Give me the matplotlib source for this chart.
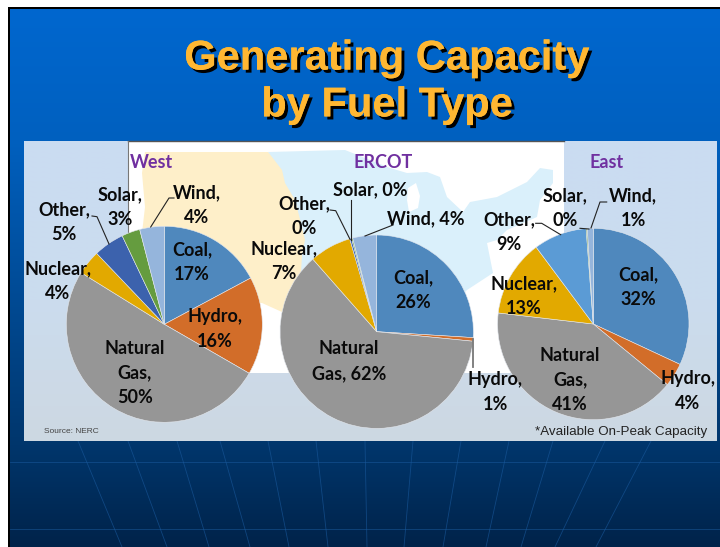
import numpy as np
import matplotlib
matplotlib.use("Agg")
import matplotlib.pyplot as plt
import matplotlib.patheffects as pe
from matplotlib.patches import Polygon, Rectangle

W, H = 720, 547

# ---- data ----
fuels = ["Coal", "Hydro", "Natural Gas", "Nuclear", "Other", "Solar", "Wind"]
west_values = [17, 16, 50, 4, 5, 3, 4]
ercot_values = [26, 0.6, 62, 7, 0.3, 0.2, 4]
east_values = [32, 4, 41, 13, 9, 0.2, 1]

west_colors = ["#4f88bd", "#d26d29", "#969696", "#e2a900", "#3c62ad", "#659c3f", "#95b5dc"]
ercot_colors = ["#4f88bd", "#d26d29", "#969696", "#e2a900", "#3c62ad", "#659c3f", "#95b5dc"]
east_colors = ["#4f88bd", "#d26d29", "#969696", "#e2a900", "#5b9bd5", "#659c3f", "#95b5dc"]

west_labels = ["Coal,\n17%", "Hydro,\n16%", "Natural\nGas,\n50%", "Nuclear,\n4%",
               "Other,\n5%", "Solar,\n3%", "Wind,\n4%"]
ercot_labels = ["Coal,\n26%", "Hydro,\n1%", "Natural\nGas, 62%", "Nuclear,\n7%",
                "Other,\n0%", "Solar, 0%", "Wind, 4%"]
east_labels = ["Coal,\n32%", "Hydro,\n4%", "Natural\nGas,\n41%", "Nuclear,\n13%",
               "Other,\n9%", "Solar,\n0%", "Wind,\n1%"]

regions = ["West", "ERCOT", "East"]
title = "Generating Capacity\nby Fuel Type"
source = "Source: NERC"
note = "*Available On-Peak Capacity"

# ---- layout (pixels, y measured from the top) ----
west_pos = [(192, 262), (215, 329), (135, 373), (58, 281), (64, 222), (120, 207), (197, 205)]
ercot_pos = [(413, 290), (495, 392), (349, 361), (284, 261), (304, 216), (370, 190), (426, 219)]
east_pos = [(638, 287), (688, 391), (570, 380), (524, 296), (509, 232), (565, 208), (633, 208)]
centers = [(164.3, 324.3, 98), (376.7, 331.7, 96.7), (593.3, 324, 95.7)]
region_pos = [(151, 162), (383, 162), (607, 162)]

leaders = [
    [(92, 216), (97, 216.7), (109, 244)],
    [(174, 198), (169, 198), (150.7, 227)],
    [(330, 210), (335.7, 210.7), (350, 239.3)],
    [(351, 200), (351, 240)],
    [(393, 225), (365, 236)],
    [(472.7, 339), (472.7, 367)],
    [(535.7, 223.3), (541.7, 223.3), (560.7, 234.7)],
    [(580, 228.3), (589, 229)],
    [(606.7, 202), (600, 202), (591, 228)],
]

def Y(y):
    return H - y

def rgb(c):
    return np.array(matplotlib.colors.to_rgb(c))

def vgrad(stops, n=540):
    ys = np.linspace(stops[0][0], stops[-1][0], n)
    chans = [np.interp(ys, [s[0] for s in stops], [rgb(s[1])[i] for s in stops]) for i in range(3)]
    return np.stack(chans, axis=1)[:, None, :]

fig = plt.figure(figsize=(W / 100, H / 100), dpi=100, facecolor="white")
ax = fig.add_axes([0, 0, 1, 1])

# slide background
bg_stops = [(9, "#0067cf"), (140, "#0060bf"), (445, "#00366c"), (547, "#00234a")]
ax.imshow(vgrad(bg_stops), extent=[10, W, Y(547), Y(9)], aspect="auto", zorder=0)
ax.add_patch(Rectangle((8, 0), 2.2, Y(7), color="black", zorder=1, lw=0))
ax.add_patch(Rectangle((8, Y(9.2)), W - 8, 2.2, color="black", zorder=1, lw=0))

# globe lines on the lower part of the slide
fan_top = [78, 128, 177, 220, 268, 316, 365, 413, 461, 509, 553, 605, 651]
fan_bot = [122, 167, 209, 250, 289, 328, 367, 404, 443, 486, 521, 555, 596]
for a, b in zip(fan_top, fan_bot):
    ax.plot([a, b], [Y(441), Y(547)], color="#1a5a9e", lw=0.6, alpha=0.6, zorder=1)
for yy in (462, 529):
    ax.plot([10, W], [Y(yy), Y(yy)], color="#1a5a9e", lw=0.6, alpha=0.6, zorder=1)

# light panel and map
ax.imshow(vgrad([(141, "#cadcf2"), (300, "#cbdcee"), (441, "#cdd8e2")]),
          extent=[24, 717, Y(441), Y(141)], aspect="auto", zorder=2)
ax.add_patch(Rectangle((127.5, Y(373)), 436.5, 232, color="white", zorder=3, lw=0))
blue = [(268, 152), (345, 150), (390, 168), (407, 173), (427, 172), (440, 177), (447, 197),
        (463, 212), (470, 202), (497, 197), (527, 182), (540, 168), (553, 170), (553, 183),
        (540, 200), (537, 217), (507, 230), (497, 240), (487, 243), (493, 273), (467, 290),
        (420, 340), (340, 360), (285, 315), (290, 240)]
ax.add_patch(Polygon([(x, Y(y)) for x, y in blue], color="#daf0fb", zorder=3, lw=0))
lake = [(408, 188), (416, 183), (420, 196), (418, 208), (409, 212), (407, 200)]
ax.add_patch(Polygon([(x, Y(y)) for x, y in lake], color="white", zorder=3, lw=0))
beige = [(145, 152), (268, 152), (272, 157), (282, 170), (285, 183), (295, 200), (302, 227),
         (305, 240), (302, 255), (300, 290), (282, 312), (262, 303), (150, 303), (142, 233),
         (145, 207), (142, 173)]
ax.add_patch(Polygon([(x, Y(y)) for x, y in beige], color="#feefc9", zorder=3, lw=0))
ax.plot([127.5, 564], [Y(141), Y(141)], color="#555555", lw=1, zorder=4)
ax.plot([127.5, 127.5], [Y(141), Y(235)], color="#777777", lw=0.8, zorder=4)

# pies
for vals, cols, (cx, cy, r) in zip([west_values, ercot_values, east_values],
                                   [west_colors, ercot_colors, east_colors], centers):
    wedges, _ = ax.pie(vals, colors=cols, startangle=90, counterclock=False,
                       center=(cx, Y(cy)), radius=r, frame=True,
                       wedgeprops=dict(edgecolor="#e4e8ee", linewidth=0.4))
    for w_ in wedges:
        w_.set_zorder(5)

ax.set_xlim(0, W)
ax.set_ylim(0, H)
ax.set_aspect("auto")
ax.axis("off")

for pts in leaders:
    xs, ys = zip(*pts)
    ax.plot(xs, [Y(v) for v in ys], color="#222222", lw=0.8, zorder=6)
ax.lines[-4].set_color("#777777")
ax.lines[-4].set_linewidth(1.3)

lab_font = dict(family="Lato", weight="bold", style="normal", color="#0a0a0a", ha="center",
                va="center", fontsize=13, linespacing=1.55, zorder=7)
for labs, poss in zip([west_labels, ercot_labels, east_labels], [west_pos, ercot_pos, east_pos]):
    for s, (x, y) in zip(labs, poss):
        ax.text(x, Y(y), s, **lab_font)

for s, (x, y) in zip(regions, region_pos):
    ax.text(x, Y(y), s, family="Lato", weight="bold", color="#7030a0", ha="center", va="center",
            fontsize=13, zorder=7)

ax.text(44, Y(431.5), source, family="Liberation Sans", fontsize=6.0, color="#444444",
        va="center", zorder=7)
ax.text(707, Y(432), note, family="Liberation Sans", fontsize=9.6, color="#222222",
        ha="right", va="center", zorder=7)

ax.text(387, Y(82), title, family="Liberation Sans", weight="bold", color="#ffb732",
        ha="center", va="center", fontsize=30, linespacing=1.22, zorder=7,
        path_effects=[pe.withSimplePatchShadow(offset=(2.2, -2.2), shadow_rgbFace="black", alpha=1),
                      pe.Normal()])

fig.savefig("out.png", dpi=100)
